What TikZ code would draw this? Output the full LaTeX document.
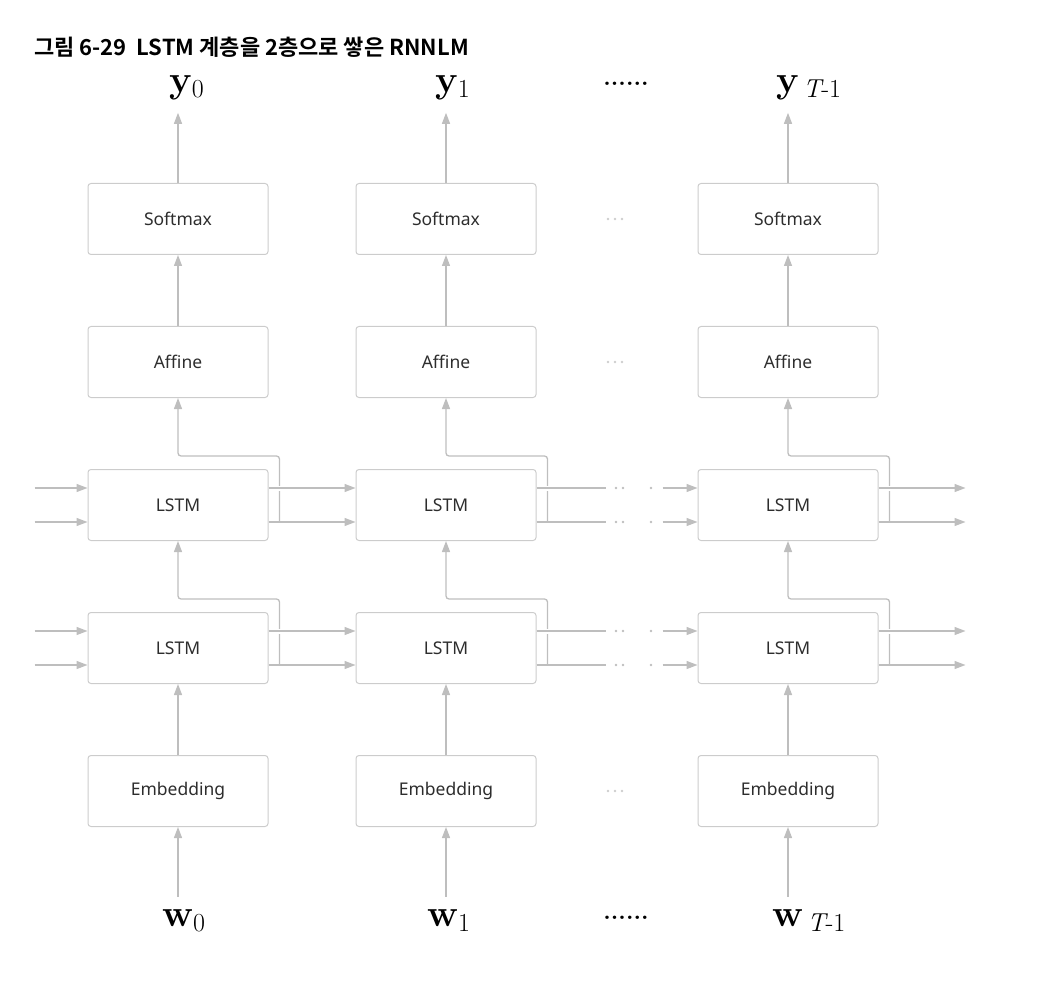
\documentclass[tikz,border=0pt]{standalone}
\usepackage{fontspec}
\setsansfont{Noto Sans}
\newfontfamily\krfont{Noto Sans CJK KR}[BoldFont={Noto Sans CJK KR Bold}]
\usetikzlibrary{arrows.meta}
\definecolor{boxgray}{RGB}{204,204,204}
\definecolor{flowgray}{RGB}{190,190,190}
\definecolor{dotgray}{RGB}{205,205,205}
\definecolor{labelgray}{RGB}{45,45,45}
\newcommand{\vecsub}[2]{{\bfseries #1}\raisebox{-5pt}{\fontsize{26}{28}\selectfont #2}}
\tikzset{
  layer/.style={draw=boxgray, line width=1pt, rounded corners=3pt, minimum width=180pt, minimum height=71pt, font=\sffamily\fontsize{17.5}{20}\selectfont, text=labelgray},
  flow/.style={draw=flowgray, line width=1.3pt, -{Triangle[length=11pt,width=8pt]}},
  wire/.style={draw=flowgray, line width=1.3pt},
  vec/.style={font=\fontsize{38}{40}\selectfont, anchor=base west, inner xsep=0pt, inner ysep=12pt},
  bridge/.style={preaction={draw=white, line width=5pt, -, shorten <=4pt, shorten >=4pt}}
}
\begin{document}
\begin{tikzpicture}[x=1pt,y=-1pt]
  \useasboundingbox (0,0) rectangle (1058,1000);

  \node[anchor=west, inner sep=0pt, font=\krfont\bfseries\fontsize{22}{26}\selectfont] (title) at (34,47) {그림 6-29\ \ LSTM 계층을 2층으로 쌓은 RNNLM};

  \foreach \c/\x in {0/178,1/446,2/788}{
    \node[layer] (sm\c) at (\x,219) {Softmax};
    \node[layer] (af\c) at (\x,362) {Affine};
    \node[layer] (lt\c) at (\x,505) {LSTM};
    \node[layer] (lb\c) at (\x,648) {LSTM};
    \node[layer] (em\c) at (\x,791) {Embedding};
  }

  \node[vec] (y0) at (169,93) {\vecsub{y}{0}};
  \node[vec] (y1) at (435,93) {\vecsub{y}{1}};
  \node[vec] (y2) at (776,93) {\vecsub{y}{\,\itshape T\upshape -1}};
  \node[vec] (w0) at (162,926) {\vecsub{w}{0}};
  \node[vec] (w1) at (427,926) {\vecsub{w}{1}};
  \node[vec] (w2) at (772,926) {\vecsub{w}{\,\itshape T\upshape -1}};
  \node[anchor=base, font=\bfseries\fontsize{24}{26}\selectfont] (ydots) at (626,86) {......};
  \node[anchor=base, font=\bfseries\fontsize{24}{26}\selectfont] (wdots) at (626,919) {......};

  \foreach \c in {0,1,2}{
    \draw[flow] (sm\c.north) -- (sm\c.north |- y\c.south);
    \draw[flow] (af\c.north) -- (sm\c.south);
    \draw[flow, rounded corners=3pt] ([xshift=11pt,yshift=-17pt]lt\c.east) |- ([yshift=13pt]lt\c.north) -- (af\c.south);
    \draw[flow, rounded corners=3pt] ([xshift=11pt,yshift=-17pt]lb\c.east) |- ([yshift=13pt]lb\c.north) -- (lt\c.south);
    \draw[flow] (em\c.north) -- (lb\c.south);
    \draw[flow] (em\c.south |- w\c.north) -- (em\c.south);
  }

  % states passed along the time axis
  \foreach \r in {lt,lb}{
    \draw[flow] ([yshift=17pt]\r0.west) ++(-53,0) -- ([yshift=17pt]\r0.west);
    \draw[flow] ([yshift=-17pt]\r0.west) ++(-53,0) -- ([yshift=-17pt]\r0.west);
    \draw[flow] ([yshift=-17pt]\r0.east) -- ([yshift=-17pt]\r1.west);
    \draw[flow,bridge] ([yshift=17pt]\r0.east) -- ([yshift=17pt]\r1.west);
    \draw[wire] ([yshift=-17pt]\r1.east) -- ++(69,0);
    \draw[wire,bridge] ([yshift=17pt]\r1.east) -- ++(69,0);
    \draw[flow] ([yshift=17pt]\r2.west) ++(-35,0) -- ([yshift=17pt]\r2.west);
    \draw[flow] ([yshift=-17pt]\r2.west) ++(-35,0) -- ([yshift=-17pt]\r2.west);
    \draw[flow] ([yshift=-17pt]\r2.east) -- ++(87,0);
    \draw[flow,bridge] ([yshift=17pt]\r2.east) -- ++(87,0);
  }
  \foreach \yy in {488,522,631,665}
    \foreach \xx in {616,623,651}
      \fill[flowgray] (\xx,\yy) circle (1.3pt);

  \foreach \yy in {219,362,791}
    \foreach \xx in {608,615,622}
      \fill[dotgray] (\xx,\yy) circle (1.4pt);
\end{tikzpicture}
\end{document}
